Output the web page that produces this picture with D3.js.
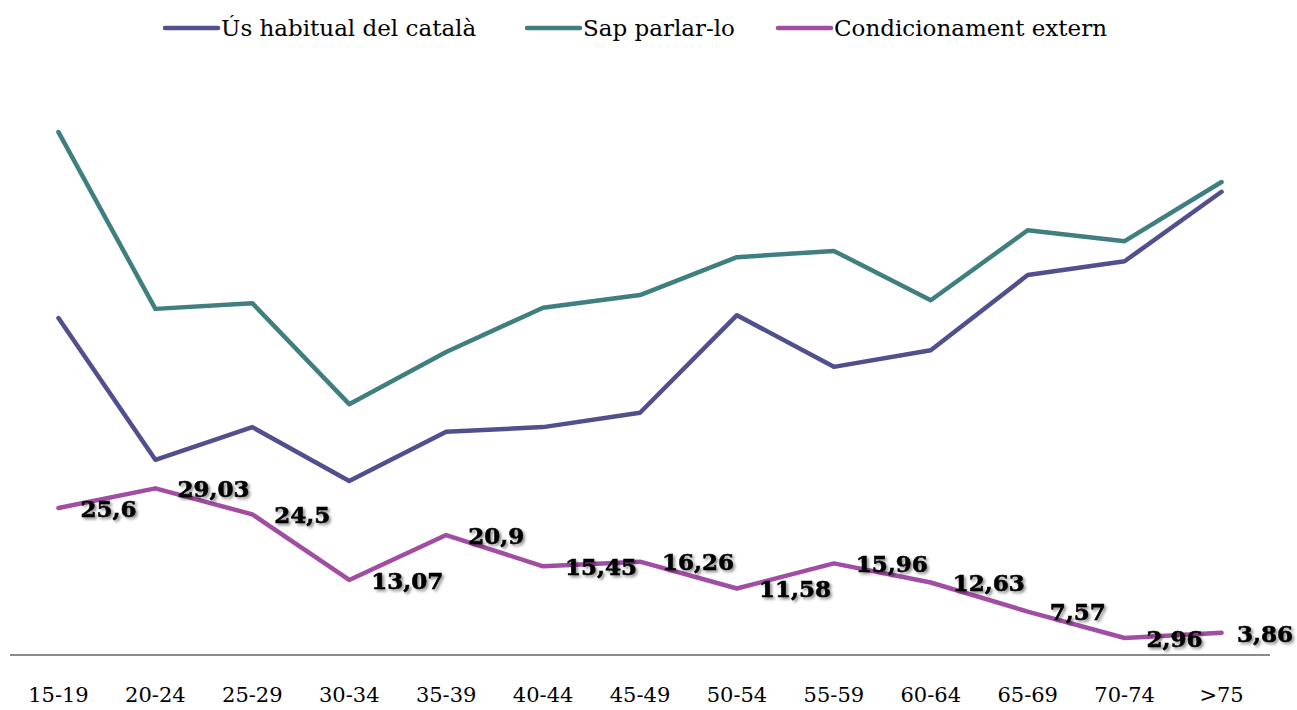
<!DOCTYPE html>
<html>
<head>
<meta charset="utf-8">
<script src="https://cdn.jsdelivr.net/npm/d3@7"></script>
<style>
  body { margin: 0; background: #fff; }
  text { font-family: "DejaVu Serif", Georgia, serif; }
</style>
</head>
<body>
<script>
const ageGroups = ["15-19", "20-24", "25-29", "30-34", "35-39", "40-44", "45-49",
  "50-54", "55-59", "60-64", "65-69", "70-74", ">75"];

const usHabitual = [58.7, 34.0, 39.7, 30.3, 38.9, 39.7, 42.2, 59.2, 50.2, 53.1, 66.2, 68.6, 80.7];
const sapParlar = [91.1, 60.3, 61.3, 43.7, 52.8, 60.5, 62.7, 69.3, 70.4, 61.8, 74.0, 72.1, 82.4];
const condicionament = [25.6, 29.03, 24.5, 13.07, 20.9, 15.45, 16.26, 11.58, 15.96, 12.63, 7.57, 2.96, 3.86];

const seriesNames = ["Ús habitual del català", "Sap parlar-lo", "Condicionament extern"];
const seriesColors = ["#51508f", "#3f7f80", "#a04da3"];

const w = 1297;
const h = 710;

const svg = d3.select("body")
  .append("svg")
  .attr("width", w)
  .attr("height", h);

// soft shadow for the data labels
const filter = svg.append("defs").append("filter")
  .attr("id", "shadow")
  .attr("x", "-20%").attr("y", "-30%")
  .attr("width", "140%").attr("height", "160%");
filter.append("feDropShadow")
  .attr("dx", 2).attr("dy", 2)
  .attr("stdDeviation", 1.5)
  .attr("flood-color", "#000")
  .attr("flood-opacity", 0.45);

const x = d3.scaleBand()
  .domain(ageGroups)
  .range([10, 1270]);

const y = d3.scaleLinear()
  .domain([0, 100])
  .range([655, 81]);

const line = d3.line()
  .x((d, i) => x(ageGroups[i]) + x.bandwidth() / 2)
  .y(d => y(d));

const allSeries = [usHabitual, sapParlar, condicionament];

// axis
const xAxis = svg.append("g")
  .attr("transform", `translate(0,${y(0)})`)
  .call(d3.axisBottom(x).tickSize(0).tickPadding(32));
xAxis.select(".domain")
  .attr("d", `M10,0H1270`)
  .attr("stroke", "#8a8a8a")
  .attr("stroke-width", 2);
xAxis.selectAll(".tick text")
  .attr("font-size", 21)
  .attr("fill", "#000")
  .style("font-family", '"DejaVu Serif", serif');

// lines
svg.selectAll(".series")
  .data(allSeries)
  .enter()
  .append("path")
  .attr("class", "series")
  .attr("d", d => line(d))
  .attr("fill", "none")
  .attr("stroke", (d, i) => seriesColors[i])
  .attr("stroke-width", 4.5)
  .attr("stroke-linejoin", "round")
  .attr("stroke-linecap", "round");

// data labels for the third series
const labels = svg.selectAll(".lbl")
  .data(condicionament)
  .enter()
  .append("text")
  .attr("class", "lbl")
  .attr("font-size", 23)
  .attr("font-weight", "bold")
  .attr("fill", "#000")
  .attr("stroke", "#000")
  .attr("stroke-width", 0.6)
  .attr("filter", "url(#shadow)")
  .attr("dy", "0.6em")
  .attr("y", d => y(d) - 5)
  .text(d => String(d).replace(".", ","));

labels.each(function (d, i) {
  const px = x(ageGroups[i]) + x.bandwidth() / 2;
  const tw = this.getComputedTextLength();
  this.setAttribute("x", Math.min(px + 22, 1293 - tw));
});

// legend
const legendX = [165, 527, 778];
const legend = svg.selectAll(".legend")
  .data(seriesNames)
  .enter()
  .append("g")
  .attr("class", "legend")
  .attr("transform", (d, i) => `translate(${legendX[i]},28)`);

legend.append("line")
  .attr("x1", 0).attr("x2", 53)
  .attr("y1", 0).attr("y2", 0)
  .attr("stroke", (d, i) => seriesColors[i])
  .attr("stroke-width", 4.5)
  .attr("stroke-linecap", "round");

legend.append("text")
  .attr("x", 56)
  .attr("dy", "0.35em")
  .attr("font-size", 23)
  .attr("fill", "#000")
  .text(d => d);
</script>
</body>
</html>
